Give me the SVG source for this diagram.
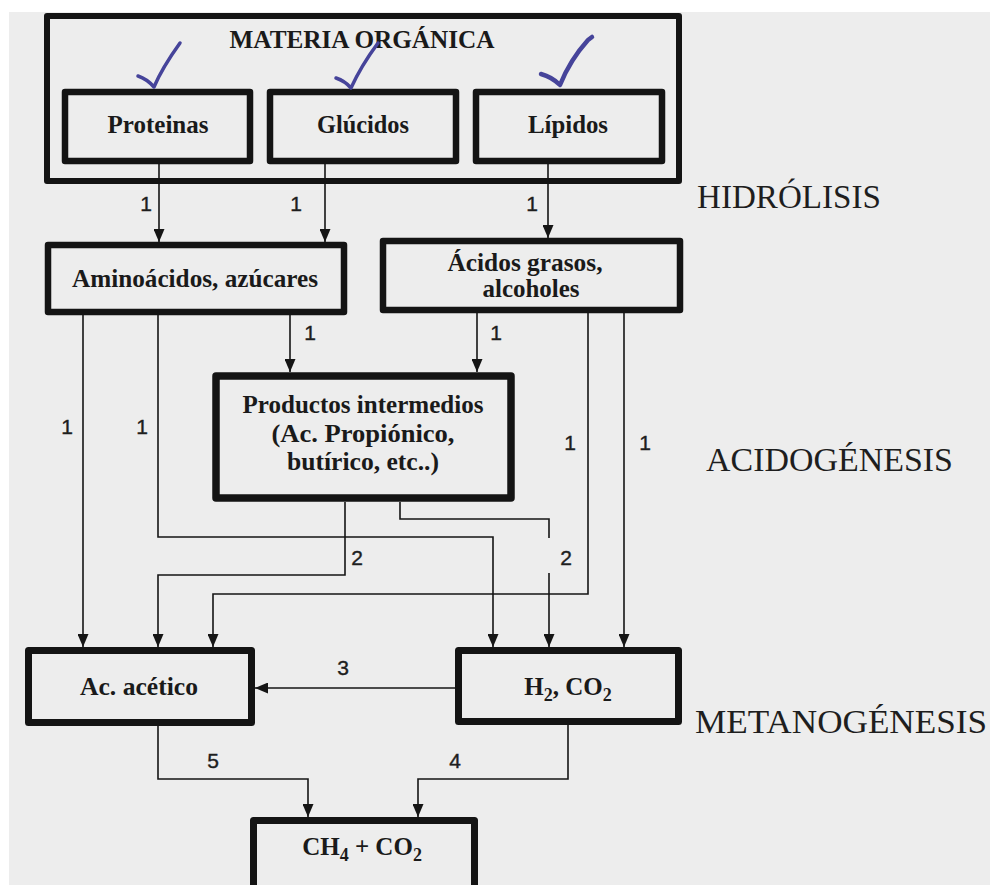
<svg xmlns="http://www.w3.org/2000/svg" width="990" height="885" viewBox="0 0 990 885">
  <style>
    .box { fill: none; stroke: #141414; stroke-linejoin: round; }
    .lbl { font-family: "Liberation Serif", "Times New Roman", serif; font-weight: bold; font-size: 25px; fill: #1a1a1a; text-anchor: middle; }
    .stage { font-family: "Liberation Serif", "Times New Roman", serif; font-size: 34px; fill: #1e1e1e; }
    .num { font-family: "Liberation Sans", Arial, sans-serif; font-size: 21px; fill: #1e1e1e; text-anchor: middle; stroke: #1e1e1e; stroke-width: 0.4; }
    .wire { fill: none; stroke: #151515; stroke-width: 1.6; }
    .arrow { marker-end: url(#head); }
    .tick { fill: none; stroke: #46449a; stroke-linecap: round; stroke-linejoin: round; }
  </style>
  <defs>
    <marker id="head" viewBox="0 0 13 11" refX="13" refY="5.5" markerWidth="13" markerHeight="11" markerUnits="userSpaceOnUse" orient="auto">
      <path d="M0,0 L13,5.5 L0,11 Z" fill="#151515"/>
    </marker>
  </defs>

  <!-- paper -->
  <rect x="0" y="0" width="990" height="885" fill="#ffffff"/>
  <rect x="9" y="12" width="981" height="873" fill="#ededed"/>

  <!-- source material -->
  <g id="materia-organica">
    <rect class="box" x="47" y="16" width="632" height="165" stroke-width="6"/>
    <text class="lbl" x="362" y="48" textLength="265" lengthAdjust="spacingAndGlyphs">MATERIA ORGÁNICA</text>
  </g>
  <g id="proteinas">
    <rect class="box" x="65" y="92" width="185" height="69" stroke-width="6.5"/>
    <text class="lbl" x="158" y="133" textLength="101" lengthAdjust="spacingAndGlyphs">Proteinas</text>
  </g>
  <g id="glucidos">
    <rect class="box" x="270" y="92" width="186" height="69" stroke-width="6.5"/>
    <text class="lbl" x="363" y="133" textLength="92" lengthAdjust="spacingAndGlyphs">Glúcidos</text>
  </g>
  <g id="lipidos">
    <rect class="box" x="476" y="92" width="186" height="69" stroke-width="6.5"/>
    <text class="lbl" x="568" y="133" textLength="80" lengthAdjust="spacingAndGlyphs">Lípidos</text>
  </g>

  <!-- hand-drawn check marks -->
  <g id="checks">
    <path class="tick" stroke-width="3.5" d="M138,76 Q147,79 154,87 Q162,68 180,43"/>
    <path class="tick" stroke-width="3.5" d="M336,78 Q345,81 351,88 Q361,66 378,43"/>
    <path class="tick" stroke-width="4.5" d="M541,74 Q552,77 560,85 Q570,60 588,40 L592,37"/>
  </g>

  <!-- hydrolysis products -->
  <g id="aminoacidos">
    <rect class="box" x="48" y="245" width="296" height="67" stroke-width="6.5"/>
    <text class="lbl" x="195" y="287" textLength="246" lengthAdjust="spacingAndGlyphs">Aminoácidos, azúcares</text>
  </g>
  <g id="acidos-grasos">
    <rect class="box" x="383" y="241" width="297" height="69" stroke-width="6.5"/>
    <text class="lbl" x="525" y="271" textLength="155" lengthAdjust="spacingAndGlyphs">Ácidos grasos,</text>
    <text class="lbl" x="531" y="297" textLength="97" lengthAdjust="spacingAndGlyphs">alcoholes</text>
  </g>

  <g id="productos-intermedios">
    <rect class="box" x="216" y="376" width="295" height="122" stroke-width="7.5"/>
    <text class="lbl" x="363" y="413" textLength="241" lengthAdjust="spacingAndGlyphs">Productos intermedios</text>
    <text class="lbl" x="363" y="442" textLength="183" lengthAdjust="spacingAndGlyphs">(Ac. Propiónico,</text>
    <text class="lbl" x="363" y="470" textLength="152" lengthAdjust="spacingAndGlyphs">butírico, etc..)</text>
  </g>

  <g id="ac-acetico">
    <rect class="box" x="28.5" y="650.5" width="223" height="72" stroke-width="7"/>
    <text class="lbl" x="139" y="695" textLength="118" lengthAdjust="spacingAndGlyphs">Ac. acético</text>
  </g>
  <g id="h2-co2">
    <rect class="box" x="458.5" y="650.5" width="220" height="71" stroke-width="7"/>
    <text class="lbl" x="568" y="695" font-size="27">H<tspan font-size="18" dy="6">2</tspan><tspan dy="-6">, CO</tspan><tspan font-size="18" dy="6">2</tspan></text>
  </g>
  <g id="ch4-co2">
    <rect class="box" x="253.5" y="820.5" width="221" height="100" stroke-width="7"/>
    <text class="lbl" x="362" y="855" font-size="27">CH<tspan font-size="18" dy="6">4</tspan><tspan dy="-6"> + CO</tspan><tspan font-size="18" dy="6">2</tspan></text>
  </g>

  <!-- stage names -->
  <g id="stages">
    <text class="stage" x="697" y="208" textLength="184" lengthAdjust="spacingAndGlyphs">HIDRÓLISIS</text>
    <text class="stage" x="706" y="471" textLength="247" lengthAdjust="spacingAndGlyphs">ACIDOGÉNESIS</text>
    <text class="stage" x="695" y="733" textLength="292" lengthAdjust="spacingAndGlyphs">METANOGÉNESIS</text>
  </g>

  <!-- connectors -->
  <g id="connectors">
    <path class="wire arrow" d="M159,164 V242"/>
    <path class="wire arrow" d="M325,164 V242"/>
    <path class="wire arrow" d="M548,164 V238"/>

    <path class="wire arrow" d="M290,315 V372"/>
    <path class="wire arrow" d="M477,313 V372"/>

    <path class="wire arrow" d="M83,315 V647"/>
    <path class="wire arrow" d="M158,315 V537 H493 V647"/>
    <path class="wire arrow" d="M345,502 V575 H158 V647"/>
    <path class="wire" d="M400,502 V519 H549 V538"/>
    <path class="wire arrow" d="M549,573 V647"/>
    <path class="wire arrow" d="M588,313 V594 H213 V647"/>
    <path class="wire arrow" d="M624,313 V647"/>

    <path class="wire arrow" d="M455,688 H255"/>
    <path class="wire arrow" d="M158,726 V779 H308 V817"/>
    <path class="wire arrow" d="M568,725 V779 H418 V817"/>

    <text class="num" x="146" y="211">1</text>
    <text class="num" x="296" y="211">1</text>
    <text class="num" x="532" y="211">1</text>
    <text class="num" x="310" y="340">1</text>
    <text class="num" x="496" y="340">1</text>
    <text class="num" x="67" y="434">1</text>
    <text class="num" x="142" y="434">1</text>
    <text class="num" x="570" y="450">1</text>
    <text class="num" x="645" y="450">1</text>
    <text class="num" x="357" y="565">2</text>
    <text class="num" x="566" y="565">2</text>
    <text class="num" x="343" y="675">3</text>
    <text class="num" x="213" y="768">5</text>
    <text class="num" x="455" y="768">4</text>
  </g>
</svg>
